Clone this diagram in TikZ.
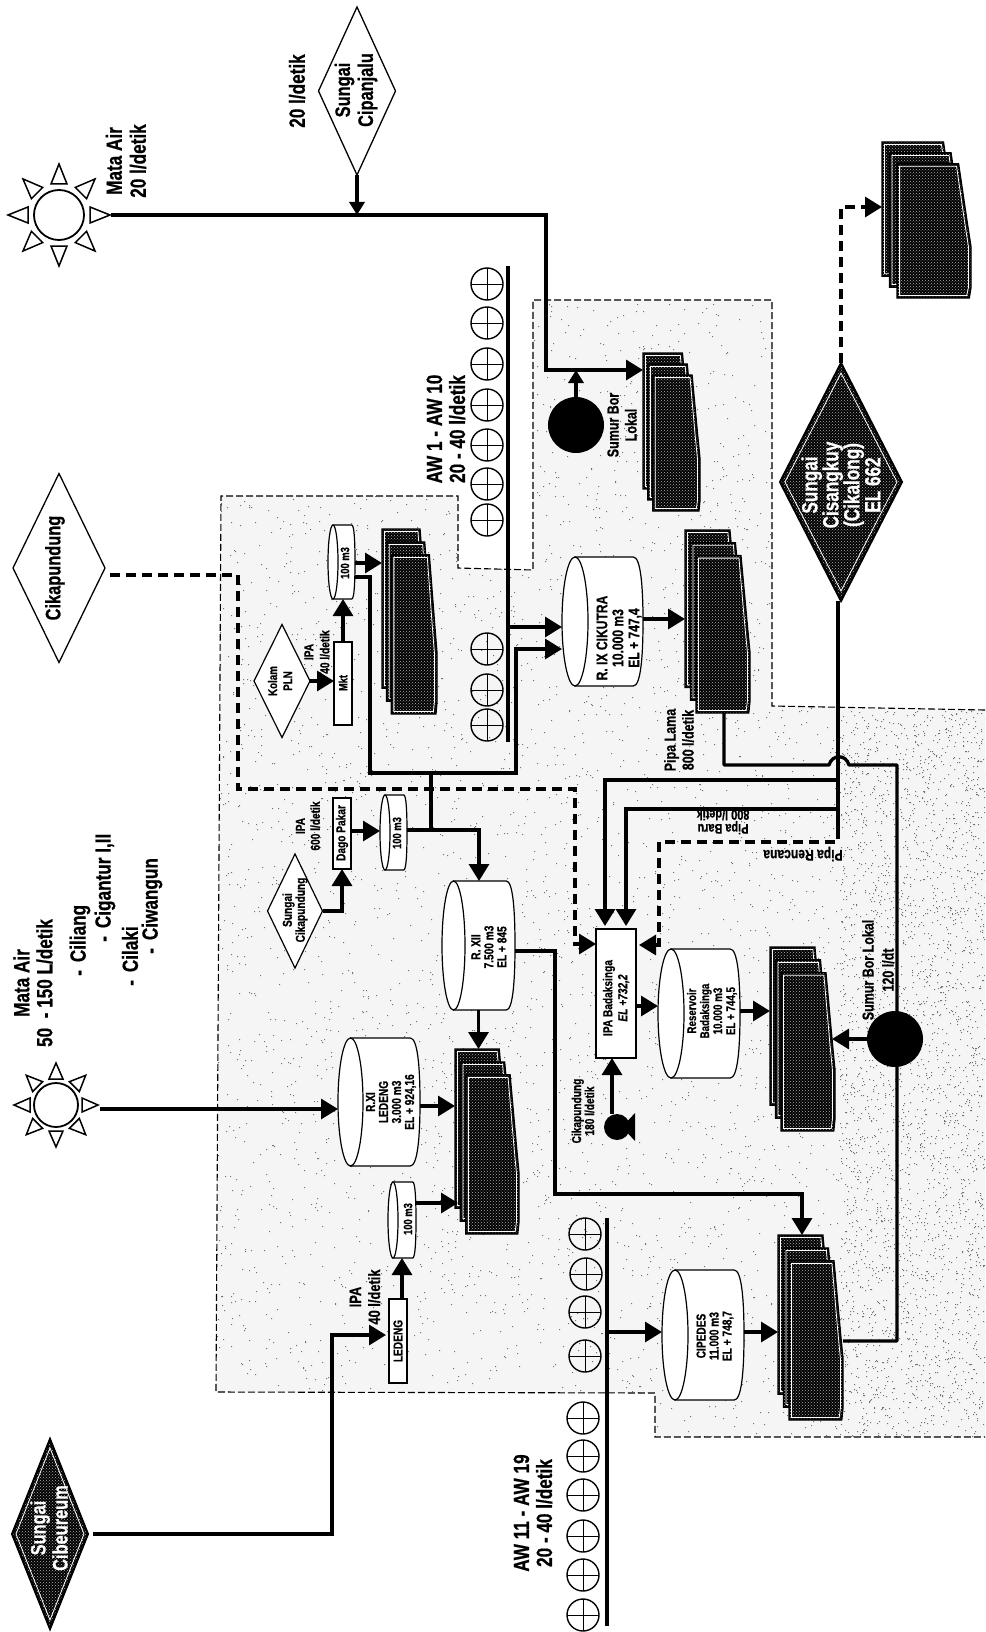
\documentclass[tikz,border=0pt]{standalone}
\usepackage{fontspec}
\setmainfont[BoldFont={Liberation Sans Bold},BoldItalicFont={Liberation Sans Bold Italic},BoldFeatures={FakeStretch=0.78,FakeBold=0.6},BoldItalicFeatures={FakeStretch=0.78,FakeBold=0.6},FakeStretch=0.78]{Liberation Sans}
\usetikzlibrary{arrows.meta,shapes.geometric,patterns}
\tikzset{
  pipe/.style={line width=3.3pt,draw=black},
  flow/.style={pipe,-{Triangle[length=17pt,width=20pt]}},
  flowsmall/.style={pipe,-{Triangle[length=13pt,width=15pt]}},
  dflow/.style={flow,dash pattern=on 10pt off 6pt},
  zone/.style={line width=1.1pt,dash pattern=on 7pt off 3pt},
  lab/.style 2 args={rotate=90,align=center,inner sep=0pt,font=\bfseries\fontsize{#1}{#2}\selectfont},
  labflat/.style 2 args={rotate=180,align=center,inner sep=0pt,font=\bfseries\fontsize{#1}{#2}\selectfont},
  plain/.style={draw=black,line width=1.2pt,fill=white},
  ghost/.style={},
  well/.style={circle,fill=black,inner sep=0pt,outer sep=0pt},
  ray/.style={draw=black,line width=1.5pt,fill=white,line join=miter},
  darkface/.style={preaction={fill=black},pattern=crosshatch dots,pattern color=white!70!black},
  awell/.style={circle,draw=black,line width=1.4pt,path picture={\draw[line width=.9pt] (path picture bounding box.north)--(path picture bounding box.south) (path picture bounding box.west)--(path picture bounding box.east);},minimum size=32pt,inner sep=0pt},
}
% style, name, x0, x1, y0, y1
\newcommand\putshape[6]{%
  \pgfmathsetmacro\cxx{(#3+#4)/2}\pgfmathsetmacro\cyy{(#5+#6)/2}%
  \pgfmathsetmacro\wdd{#4-#3}\pgfmathsetmacro\htt{#6-#5}%
  \node[#1,rectangle,inner sep=0pt,outer sep=0pt,minimum width=\wdd pt,minimum height=\htt pt] (#2) at (\cxx,\cyy) {};}
% name, x0, x1, y0, y1, ellipse half width
\newcommand\tank[6]{%
  \pgfmathsetmacro\ww{#3-#2}\pgfmathsetmacro\hh{#5-#4}\pgfmathsetmacro\ym{(#4+#5)/2}%
  \pgfmathsetmacro\ex{#2+#6}\pgfmathsetmacro\xb{#3-.12*\ww}\pgfmathsetmacro\xc{#3-.03*\ww}%
  \pgfmathsetmacro\ya{#4+.22*\hh}\pgfmathsetmacro\yb{#5-.22*\hh}%
  \pgfmathsetmacro\ry{\hh/2}%
  \draw[plain] (\ex,#4) -- (\xb,#4) .. controls (\xc,#4) and (#3,\ya) .. (#3,\ym) .. controls (#3,\yb) and (\xc,#5) .. (\xb,#5) -- (\ex,#5) -- cycle;
  \draw[plain] (\ex,\ym) ellipse [x radius=#6,y radius=\ry];
  \putshape{ghost}{#1}{#2}{#3}{#4}{#5}}
% name, x0, x1, y0, y1
\newcommand\housing[5]{%
  \pgfmathsetmacro\WW{#3-#2}\pgfmathsetmacro\HH{#5-#4}%
  \foreach \k in {0,1,2}{%
    \pgfmathsetmacro\xa{#2+\k*.085*\WW}\pgfmathsetmacro\yaa{#4+\k*.07*\HH}%
    \pgfmathsetmacro\lh{.86*\HH}\pgfmathsetmacro\xt{\xa+.69*\WW}\pgfmathsetmacro\xr{\xa+.83*\WW}%
    \pgfmathsetmacro\xm{\xa+.79*\WW}\pgfmathsetmacro\xe{\xa+.81*\WW}%
    \pgfmathsetmacro\ym{\yaa+.45*\lh}\pgfmathsetmacro\yn{\yaa+.62*\lh}\pgfmathsetmacro\yo{\yaa+.92*\lh}\pgfmathsetmacro\ye{\yaa+\lh}%
    \draw[darkface,draw=black,line width=1.4pt] (\xa,\yaa) -- (\xt,\yaa) -- (\xm,\ym) -- (\xr,\yn) -- (\xr,\yo) -- (\xe,\ye) -- (\xa,\ye) -- cycle;
    \draw[white,line width=.8pt] (\xa+2.5,\yaa+2.5) -- (\xt-2,\yaa+2.5) -- (\xm-2.5,\ym) -- (\xr-2.5,\yn) -- (\xr-2.5,\yo) -- (\xe-2.5,\ye-2.5) -- (\xa+2.5,\ye-2.5) -- cycle;
  }%
  \putshape{ghost}{#1}{#2}{#3}{#4}{#5}}
% name cx cy w h options
\newcommand\gate[6]{%
  \pgfmathsetmacro\asp{#4/#5}%
  \node[diamond,aspect=\asp,minimum width=#4pt,minimum height=#5pt,inner sep=0pt,outer sep=0pt,#6] (#1) at (#2,#3) {};}
% name cx cy circle radius base radius apex radius half base
\newcommand\sunshape[7]{%
  \foreach \a in {0,45,...,315}{%
    \begin{scope}[shift={(#2,#3)},rotate=\a]
      \draw[ray] (#5,-#7) -- (#6,0) -- (#5,#7) -- cycle;
    \end{scope}}%
  \node[circle,draw=black,line width=1.8pt,fill=white,inner sep=0pt,outer sep=0pt,minimum size=#4] (#1) at (#2,#3) {};}
\begin{document}
\begin{tikzpicture}[x=1pt,y=-1pt]
\useasboundingbox (0,0) rectangle (985,1632);
\fill[white] (0,0) rectangle (985,1632);
% service zone
\fill[black!4] (221,496) -- (458,496) -- (458,568) -- (533,570) -- (533,300) -- (772,300) -- (772,706) -- (985,710) -- (985,1437) -- (655,1437) -- (655,1393) -- (216,1392) -- cycle;
\pgfmathsetseed{7}
\begin{scope}
\clip (221,496) -- (458,496) -- (458,568) -- (533,570) -- (533,300) -- (772,300) -- (772,706) -- (985,710) -- (985,1437) -- (655,1437) -- (655,1393) -- (216,1392) -- cycle;
\fill[black!55] \foreach \i in {1,...,5000}{ ({random(216,985)},{random(300,1437)}) rectangle ++(1.2,1.2) };
\fill[black!55] \foreach \i in {1,...,2500}{ ({random(840,985)},{random(710,1437)}) rectangle ++(1.2,1.2) };
\end{scope}
\draw[zone] (985,710) -- (772,706) -- (772,300) -- (533,300) -- (533,570) -- (458,568) -- (458,496) -- (221,496) -- (216,1392) -- (655,1393) -- (655,1437) -- (985,1437);

% sources
\sunshape{sunA}{59}{215}{50pt}{31}{51}{8}
\sunshape{sunB}{56}{1105}{44pt}{26}{42}{7}
\gate{dCip}{357}{91}{77}{168}{draw=black,line width=1.3pt,fill=white}
\gate{dCik}{59}{568}{92}{189}{draw=black,line width=1.3pt,fill=white}
\gate{dKol}{282}{681}{56}{113}{draw=black,line width=1.2pt,fill=white}
\gate{dSun}{295}{911}{55}{114}{draw=black,line width=1.2pt,fill=white}
\gate{dBig}{841}{482}{122}{238}{draw=black,line width=2pt,darkface}
\gate{dBigIn}{841}{482}{112}{218}{draw=white,line width=.8pt}
\gate{dCib}{50}{1534}{76}{190}{draw=black,line width=2pt,darkface}
\gate{dCibIn}{50}{1534}{68}{172}{draw=white,line width=.8pt}

% wells
\foreach \n/\yy in {1/284,2/323,3/364,4/405,5/445,6/484,7/520,8/649,9/690,10/725}{
  \node[awell] (awA\n) at (487,\yy) {};}
\foreach \n/\yy/\xx in {1/1234/585,2/1274/586,3/1312/585,4/1356/585,5/1418/583,6/1456/583,7/1495/583,8/1536/583,9/1575/583,10/1615/583}{
  \node[awell] (awB\n) at (\xx,\yy) {};}
\putshape{fill=black}{barA}{506.2}{509.8}{266}{742}
\putshape{fill=black}{barB}{605.2}{608.8}{1218}{1626}
\node[well,minimum size=56pt] (bor1) at (576,425) {};
\node[well,minimum size=56pt] (bor2) at (895,1039) {};
\node[well,minimum size=26pt] (pump) at (617,1127) {};
\fill[black] (622,1127) -- (635,1113) -- (635,1141) -- cycle;

% reservoirs and treatment
\tank{rix}{562}{643}{557}{686}{13}
\tank{rxii}{442}{515}{881}{1010}{11.5}
\tank{rxi}{338}{420}{1038}{1166}{12.5}
\tank{res}{658}{740}{949}{1078}{13}
\tank{cip}{662}{744}{1270}{1400}{13}
\tank{tankC}{328}{355}{525}{599}{5}
\tank{tankD}{380}{407}{795}{870}{5}
\tank{tankL}{388}{416}{1182}{1258}{5}
\putshape{plain}{ipa}{596}{636}{929}{1058}
\putshape{plain}{mkt}{334}{352}{642}{725}
\putshape{plain}{dago}{333}{351}{798}{869}
\putshape{plain}{led}{389}{407}{1299}{1383}

% served areas
\housing{s1}{882}{971}{142}{298}
\housing{s2}{643}{700}{353}{511}
\housing{s3}{685}{750}{530}{713}
\housing{s4}{382}{437}{529}{714}
\housing{s5}{455}{519}{1049}{1234}
\housing{s6}{770}{835}{947}{1131}
\housing{s7}{778}{843}{1235}{1420}

% routing points
\coordinate (j1) at (546,215); \coordinate (j2) at (546,370);
\coordinate (rixIn) at (530,627);
\coordinate (c1) at (370,577); \coordinate (c2) at (370,773);
\coordinate (c3) at (516,773); \coordinate (c4) at (516,649);
\coordinate (c5) at (431,773); \coordinate (c6) at (431,830); \coordinate (c7) at (479,830);
\coordinate (e1) at (238,575); \coordinate (e2) at (238,789);
\coordinate (e3) at (575,789); \coordinate (e4) at (575,944);
\coordinate (p1) at (838,780); \coordinate (p2) at (605,780);
\coordinate (p3) at (838,809); \coordinate (p4) at (626,809);
\coordinate (p5) at (838,829); \coordinate (p6) at (838,842);
\coordinate (p7) at (659,842); \coordinate (p8) at (659,945);
\coordinate (q1) at (724,765); \coordinate (q2) at (829,765);
\coordinate (qa) at (832,754); \coordinate (qb) at (846,754);
\coordinate (q3) at (849,765); \coordinate (q4) at (897,765);
\coordinate (q5) at (897,1341);
\coordinate (r1) at (841,207);
\coordinate (t1) at (645,1006); \coordinate (t2) at (755,1011); \coordinate (t3) at (663,619);
\coordinate (v1) at (555,951); \coordinate (v2) at (555,1194); \coordinate (v3) at (802,1194);
\coordinate (w1) at (200,1109); \coordinate (w2) at (440,1106); \coordinate (w3) at (430,1203);
\coordinate (x3) at (402,1280);
\coordinate (k1) at (365,563); \coordinate (d1) at (365,831); \coordinate (f1) at (342,911);
\coordinate (g1) at (612,1090); \coordinate (h1) at (640,1332); \coordinate (h2) at (760,1332);
\coordinate (a1) at (332,1335);

% connectors
\draw[flow] ([xshift=27pt]sunA.east) -- (j1) -- (j2) -- (j2 -| s2.west);
\draw[flowsmall] (dCip.south) -- (dCip.south |- j1);
\draw[flowsmall] (bor1.north) -- (bor1.north |- j2);
\draw[flow] (rixIn -| barA.east) -- (rixIn -| rix.west);
\draw[flow] (c1 -| tankC.east) -- (c1) -- (c2) -- (c3) -- (c4) -- (c4 -| rix.west);
\draw[pipe] (c5) -- (c6);
\draw[flow] (c6 -| tankD.east) -- (c7) -- (c7 |- rxii.north);
\draw[dflow] ([xshift=5pt]dCik.east |- e1) -- (e1) -- (e2) -- (e3) -- (e4) -- (e4 -| ipa.west);
\draw[pipe] (p1 |- dBig.south) -- (p5);
\draw[flow] (p1) -- (p2) -- ([yshift=3pt]p2 |- ipa.north);
\draw[flow] (p3) -- (p4) -- ([yshift=3pt]p4 |- ipa.north);
\draw[dflow] (p5) -- (p6) -- (p7) -- (p8) -- ([xshift=3pt]p8 -| ipa.east);
\draw[pipe,line join=round] (q1 |- s3.south) -- (q1) -- (q2) .. controls (qa) and (qb) .. (q3) -- (q4) -- (q5) -- (q5 -| s7.east);
\draw[dflow] (dBig.north) -- (r1) -- (r1 -| s1.west);
\draw[flow] (t3 -| rix.east) -- (t3 -| s3.west);
\draw[flow] (bor2.west) -- ([xshift=-3pt]bor2.west -| s6.east);
\draw[flow] (t1 -| ipa.east) -- (t1 -| res.west);
\draw[flow] (t2 -| res.east) -- (t2 -| s6.west);
\draw[flow] (rxii.south) -- (rxii.south |- s5.north);
\draw[flow] (v1 -| rxii.east) -- (v1) -- (v2) -- (v3) -- (v3 |- s7.north);
\draw[flow] ([xshift=22pt]sunB.east |- w1) -- (w1 -| rxi.west);
\draw[flow] (w2 -| rxi.east) -- (w2 -| s5.west);
\draw[flow] (w3 -| tankL.east) -- ([xshift=3pt]w3 -| s5.west);
\draw[flow] (x3 |- led.north) -- (x3 |- tankL.south);
\draw[flow] (dKol.east) -- (dKol.east -| mkt.west);
\draw[flow] (mkt.north) -- (mkt.north |- tankC.south);
\draw[flow] (k1 -| tankC.east) -- (k1 -| s4.west);
\draw[flow] (d1 -| dago.east) -- (d1 -| tankD.west);
\draw[flow] (dSun.east) -- (f1) -- (f1 |- dago.south);
\draw[flow] (g1 |- pump.north) -- (g1 |- ipa.south);
\draw[flow] (h1 -| barB.east) -- (h1 -| cip.west);
\draw[flow] (h2 -| cip.east) -- (h2 -| s7.west);
\draw[flow] ([xshift=5pt]dCib.east) -- (dCib.east -| a1) -- (a1) -- ([xshift=-3pt]a1 -| led.west);

% labels
\node[lab={22}{24}] (tMataA) at (126,161) {Mata Air\\20 l/detik};
\node[lab={22}{24}] (t20) at (297,91) {20 l/detik};
\node[lab={21}{23}] (tCip) at (356,90) {Sungai\\Cipanjalu};
\node[lab={21}{24}] (tCik) at (55,568) {Cikapundung};
\node[lab={22}{23}] (tAWA) at (446,429) {AW 1 - AW 10\\20 - 40 l/detik};
\node[lab={22}{23}] (tAWB) at (533,1513) {AW 11 - AW 19\\20 - 40 l/detik};
\node[lab={22}{23}] (tMataB) at (33,983) {Mata Air\\50 \ - 150 L/detik};
\node[lab={22}{24},anchor=west] (tL1) at (80,976) {-\hspace{8pt}Ciliang};
\node[lab={22}{24},anchor=west] (tL2) at (105,942) {-\hspace{8pt}Cigantur I,II};
\node[lab={22}{24},anchor=west] (tL3) at (130,986) {-\hspace{8pt}Cilaki};
\node[lab={22}{24},anchor=west] (tL4) at (152,954) {-\hspace{8pt}Ciwangun};
\node[lab={16}{18}] (tBor1) at (622,425) {Sumur Bor\\Lokal};
\node[lab={16}{20}] (tBor2) at (878,970) {Sumur Bor Lokal\\120 l/dt};
\node[lab={16}{18}] (tLama) at (679,740) {Pipa Lama\\800 l/detik};
\node[labflat={14}{14}] (tBaru) at (723,822) {Pipa Baru\\800 l/detik};
\node[labflat={15.5}{16}] (tRenc) at (803,854) {Pipa Rencana};
\node[lab={15.5}{16}] (tRix) at (619,638) {R. IX CIKUTRA\\10.000 m3\\EL + 747,4};
\node[lab={13}{13}] (tRxii) at (489,947) {R. XII\\7.500 m3\\EL + 845};
\node[lab={13}{13}] (tRxi) at (391,1102) {R.XI\\LEDENG\\3.000 m3\\EL + 924,16};
\node[lab={12.5}{13}] (tRes) at (712,1011) {Reservoir\\Badaksinga\\10.000 m3\\EL + 744,5};
\node[lab={13}{13}] (tCipd) at (715,1336) {CIPEDES\\11.000 m3\\EL + 748,7};
\node[lab={13}{15}] (tIpa) at (616,998) {IPA Badaksinga\\\textit{EL +732,2}};
\node[lab={12}{12}] (t100C) at (345,563) {100 m3};
\node[lab={12}{12}] (t100D) at (397,833) {100 m3};
\node[lab={12}{12}] (t100L) at (408,1219) {100 m3};
\node[lab={12}{12}] (tMkt) at (343,683) {Mkt};
\node[lab={13}{13}] (tDago) at (342,833) {Dago Pakar};
\node[lab={13}{13}] (tLed) at (398,1341) {LEDENG};
\node[lab={12.5}{15}] (tKol) at (280,681) {Kolam\\PLN};
\node[lab={13}{16}] (tIpaK) at (317,652) {IPA\\40 l/detik};
\node[lab={13}{15}] (tIpaD) at (308,826) {IPA\\600 l/detik};
\node[lab={16.5}{19}] (tIpaL) at (365,1297) {IPA\\40 l/detik};
\node[lab={13}{13}] (tSun) at (295,910) {Sungai\\Cikapundung};
\node[lab={13}{13}] (tPump) at (583,1111) {Cikapundung\\180 l/detik};
\node[lab={22}{21},text=white] (tBig) at (841,485) {Sungai\\Cisangkuy\\(Cikalong)\\EL 662};
\node[lab={21}{22},text=white] (tCib) at (49,1528) {Sungai\\Cibeureum};
\end{tikzpicture}
\end{document}
